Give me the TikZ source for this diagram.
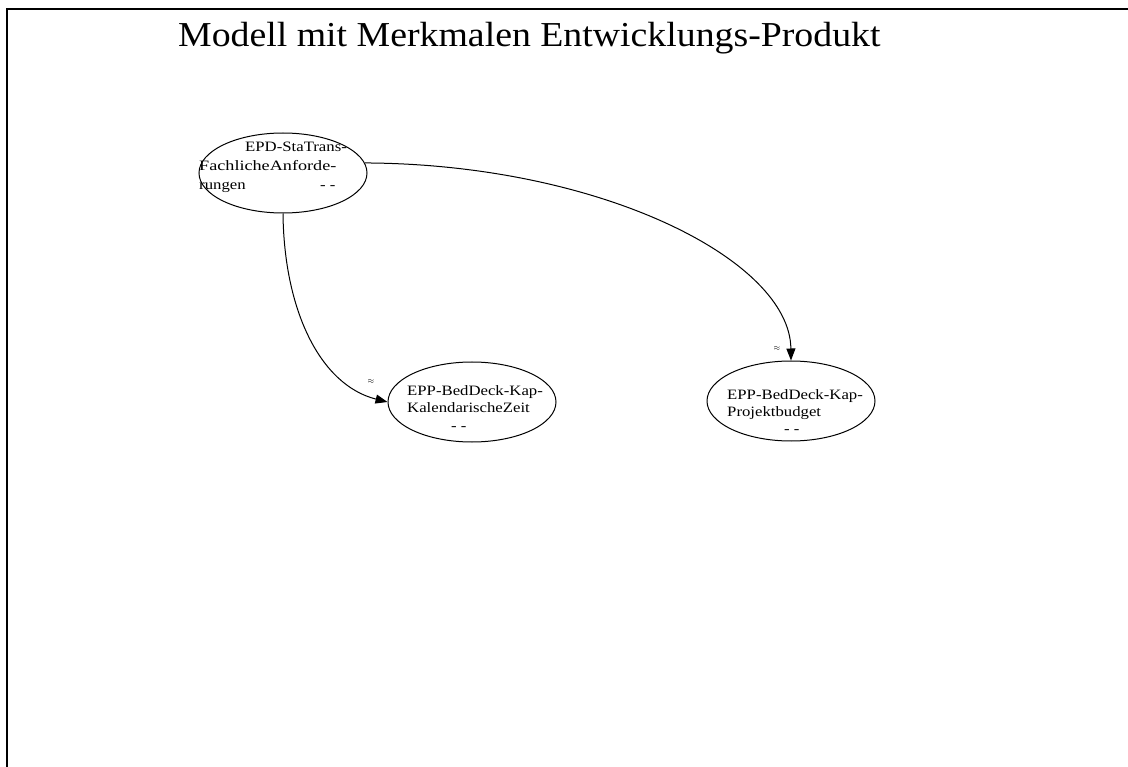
\documentclass[tikz,border=0pt]{standalone}
\usepackage{fontspec}
\setmainfont{Liberation Serif}
\newfontfamily\titlefont[FakeStretch=1.08]{Liberation Serif}
\newfontfamily\statefont[FakeStretch=1.17]{Liberation Serif}
\newfontfamily\widestatefont[FakeStretch=1.27]{Liberation Serif}
\usetikzlibrary{arrows.meta,shapes.geometric}
\begin{document}
\begin{tikzpicture}[x=1pt,y=-1pt,
  stateell/.style={draw,ellipse,line width=1pt,minimum width=168pt,minimum height=80pt,inner sep=0pt},
  lbl/.style={inner sep=0pt,anchor=base west,font=\statefont\fontsize{14.3}{16}\selectfont},
  approx/.style={inner sep=0pt,font=\fontsize{8}{9}\selectfont},
  link/.style={line width=1pt,-{Triangle[length=12pt,width=9pt]}}]
\useasboundingbox (0,0) rectangle (1128,767);
% page frame
\draw[line width=1.5pt] (1128,9) -- (7,9) -- (7,767);
% title
\node[inner sep=0pt,anchor=base west,font=\titlefont\fontsize{35}{40}\selectfont] (title) at (178,47) {Modell mit Merkmalen Entwicklungs-Produkt};
% states
\node[stateell] (fa) at (283,173) {};
\node[stateell] (kz) at (472,402) {};
\node[stateell] (pb) at (791,401) {};
% state texts
\node[lbl] (fa1) at (245,152) {EPD-StaTrans-};
\node[lbl,font=\widestatefont\fontsize{14.3}{16}\selectfont] (fa2) at (199,171) {FachlicheAnforde-};
\node[lbl] (fa3) at (199,190) {rungen};
\node[lbl] (fa4) at (320,190) {- -};
\node[lbl] (kz1) at (407,396) {EPP-BedDeck-Kap-};
\node[lbl] (kz2) at (407,413) {KalendarischeZeit};
\node[lbl] (kz3) at (451,431) {- -};
\node[lbl] (pb1) at (727,400) {EPP-BedDeck-Kap-};
\node[lbl] (pb2) at (727,417) {Projektbudget};
\node[lbl] (pb3) at (784,433) {- -};
% transitions
\draw[link] (fa.south) .. controls (284,310) and (320,385) .. (kz.west);
\draw[link] (fa.7) .. controls (600,164) and (790,260) .. (pb.north);
\node[approx] (ap1) at (371,382) {$\approx$};
\node[approx] (ap2) at (777,349) {$\approx$};
\end{tikzpicture}
\end{document}
